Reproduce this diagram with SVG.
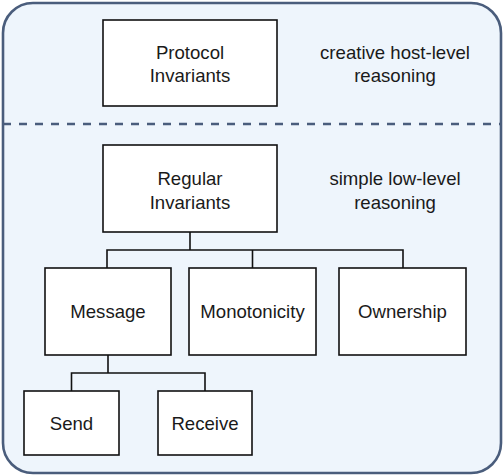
<svg xmlns="http://www.w3.org/2000/svg" width="504" height="476" viewBox="0 0 504 476">
<style>
.box{fill:#ffffff;stroke:#111111;stroke-width:1.6}
.t{font-family:"Liberation Sans",Arial,sans-serif;font-size:18.6px;fill:#1a1a1a;text-anchor:middle}
.c{fill:none;stroke:#111111;stroke-width:1.6}
</style>
<rect id="frame" x="3" y="3" width="498" height="470" rx="30" ry="30" fill="#eef5fc" stroke="#4a5d7c" stroke-width="2.6"/>
<line id="divider" x1="3" y1="124" x2="501" y2="124" stroke="#4a5d7c" stroke-width="2.6" stroke-dasharray="8 8"/>
<g id="connectors">
<path class="c" d="M190 232 V250 M107 268 V250 H403 V268 M252.5 250 V268"/>
<path class="c" d="M108 355 V373 M71.5 391 V373 H205 V391"/>
</g>
<g id="protocol">
<rect class="box" x="103" y="20" width="174" height="86"/>
<text class="t" x="190" y="58.5">Protocol</text>
<text class="t" x="190" y="82">Invariants</text>
</g>
<g id="label-creative">
<text class="t" x="395" y="59">creative host-level</text>
<text class="t" x="395" y="82">reasoning</text>
</g>
<g id="regular">
<rect class="box" x="103" y="145" width="174" height="87"/>
<text class="t" x="190" y="185">Regular</text>
<text class="t" x="190" y="208.5">Invariants</text>
</g>
<g id="label-simple">
<text class="t" x="395" y="185">simple low-level</text>
<text class="t" x="395" y="208.5">reasoning</text>
</g>
<g id="message">
<rect class="box" x="45" y="268" width="126" height="87"/>
<text class="t" x="108" y="318">Message</text>
</g>
<g id="monotonicity">
<rect class="box" x="189" y="268" width="127" height="87"/>
<text class="t" x="252.5" y="318">Monotonicity</text>
</g>
<g id="ownership">
<rect class="box" x="339" y="268" width="127" height="87"/>
<text class="t" x="402.5" y="318">Ownership</text>
</g>
<g id="send">
<rect class="box" x="24" y="391" width="95" height="64"/>
<text class="t" x="71.5" y="429.5">Send</text>
</g>
<g id="receive">
<rect class="box" x="158" y="391" width="94" height="64"/>
<text class="t" x="205" y="429.5">Receive</text>
</g>
</svg>
